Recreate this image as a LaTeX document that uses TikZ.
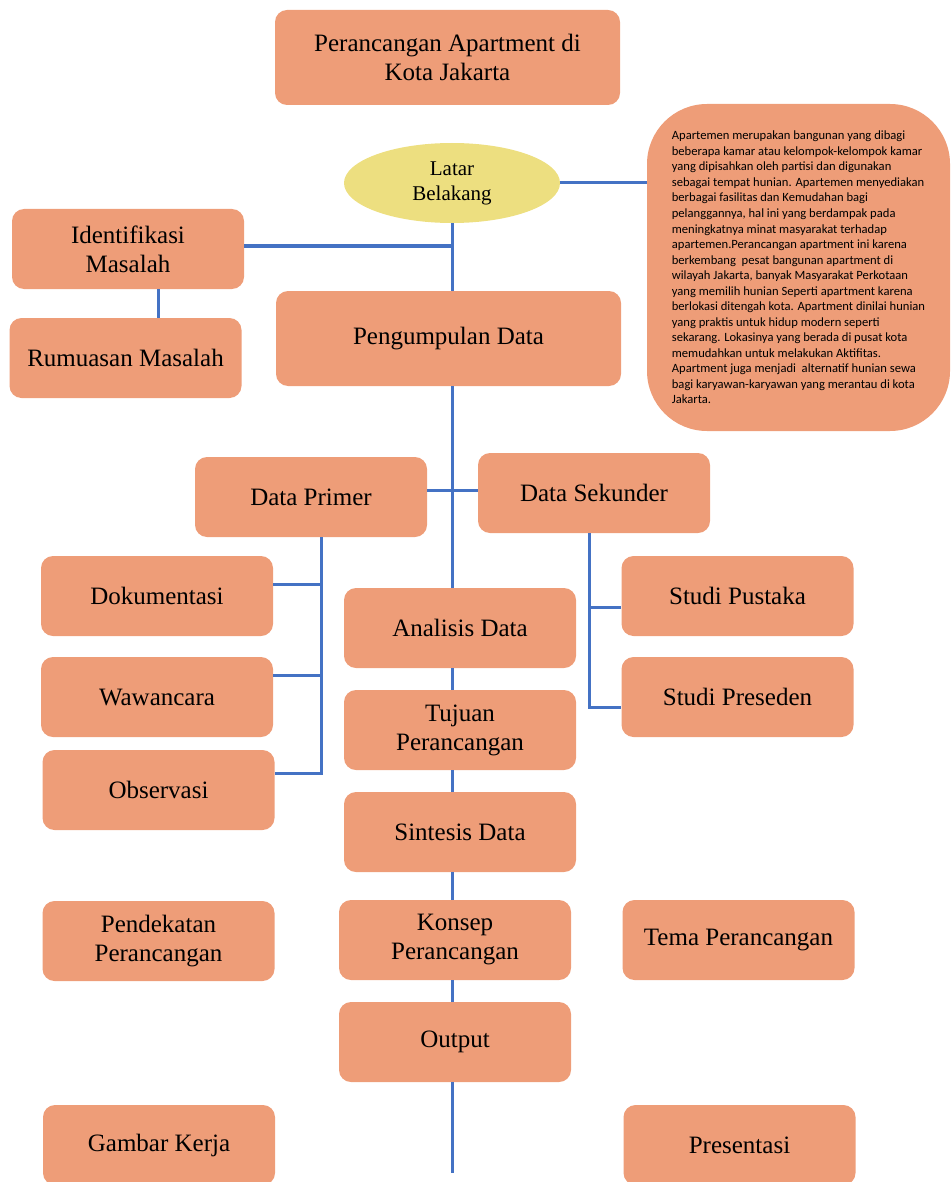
\documentclass[tikz,border=0pt]{standalone}
\usepackage{fontspec}
\setmainfont{Liberation Serif}
\newfontfamily\calib{Carlito}
\usetikzlibrary{shapes.geometric}
\definecolor{boxfill}{HTML}{EE9D78}
\definecolor{ellfill}{HTML}{EDDF80}
\definecolor{linecol}{HTML}{4472C4}
\begin{document}
\begin{tikzpicture}[x=0.5pt,y=-0.5pt,
  box/.style={draw=none, fill=boxfill, rounded corners=6pt, align=center,
    font=\fontsize{12.5}{14.5}\selectfont, inner sep=0pt},
  sbox/.style={box, minimum width=116pt, minimum height=40pt},
  bbox/.style={box, minimum width=172.5pt, minimum height=47.5pt},
  conn/.style={draw=linecol, line width=1.5pt}]
\useasboundingbox (0,0) rectangle (950,1182);

% nodes
\node[bbox] (title) at (447.5,57.5) {Perancangan Apartment di\\Kota Jakarta};
\node[ellipse, fill=ellfill, minimum width=108pt, minimum height=40pt, inner sep=0pt,
  align=center, font=\fontsize{10.5}{12.5}\selectfont] (latar) at (452,183) {\rule{0pt}{0pt}Latar\\Belakang};
\node[box, rounded corners=30pt, minimum width=151.5pt, minimum height=163.5pt,
  align=left, font=\calib\fontsize{6.3}{7.76}\selectfont] (desc) at (798.5,267.5)
{Apartemen merupakan bangunan yang dibagi\\
beberapa kamar atau kelompok-kelompok kamar\\
yang dipisahkan oleh partisi dan digunakan\\
sebagai tempat hunian. Apartemen menyediakan\\
berbagai fasilitas dan Kemudahan bagi\\
pelanggannya, hal ini yang berdampak pada\\
meningkatnya minat masyarakat terhadap\\
apartemen.Perancangan apartment ini karena\\
berkembang\ \ pesat bangunan apartment di\\
wilayah Jakarta, banyak Masyarakat Perkotaan\\
yang memilih hunian Seperti apartment karena\\
berlokasi ditengah kota. Apartment dinilai hunian\\
yang praktis untuk hidup modern seperti\\
sekarang. Lokasinya yang berada di pusat kota\\
memudahkan untuk melakukan Aktifitas.\\
Apartment juga menjadi\ \ alternatif hunian sewa\\
bagi karyawan-karyawan yang merantau di kota\\
Jakarta.};
\node[sbox] (identifikasi) at (128,249) {Identifikasi\\Masalah};
\node[sbox] (rumusan) at (125.5,358) {Rumuasan Masalah};
\node[bbox] (pengumpulan) at (448.5,338.5) {Pengumpulan Data};
\node[sbox] (dataprimer) at (311,497) {Data Primer};
\node[sbox] (datasekunder) at (594,493) {Data Sekunder};
\node[sbox] (dok) at (157,596) {Dokumentasi};
\node[sbox] (waw) at (157,697) {Wawancara};
\node[sbox] (obs) at (158.5,790) {Observasi};
\node[sbox] (pustaka) at (737.5,596) {Studi Pustaka};
\node[sbox] (preseden) at (737.5,697) {Studi Preseden};
\node[sbox] (analisis) at (460,628) {Analisis Data};
\node[sbox] (tujuan) at (460,730) {Tujuan\\Perancangan};
\node[sbox] (sintesis) at (460,832) {Sintesis Data};
\node[sbox] (konsep) at (455,940) {Konsep\\Perancangan};
\node[sbox] (output) at (455,1042) {Output};
\node[sbox] (pendekatan) at (158.5,941) {Pendekatan\\Perancangan};
\node[sbox] (tema) at (738.5,940) {Tema Perancangan};
\node[sbox] (gambar) at (159,1145) {Gambar Kerja};
\node[sbox] (presentasi) at (739.5,1145) {Presentasi};

% connectors
\draw[conn] (latar.south) -- (latar.south |- pengumpulan.north);
\draw[conn] ([yshift=1.5pt]identifikasi.east) -- ([yshift=1.5pt]identifikasi.east -| latar.south);
\draw[conn] ([xshift=15pt]identifikasi.south) -- ([xshift=15pt]identifikasi.south |- rumusan.north);
\draw[conn] (latar.east) -- (latar.east -| desc.west);
\draw[conn] (pengumpulan.south -| latar.south) -- (analisis.north -| latar.south);
\draw[conn] ([yshift=3.5pt]dataprimer.east) -- ([yshift=3.5pt]dataprimer.east -| datasekunder.west);

\coordinate (dpb) at ([xshift=5pt]dataprimer.south);
\draw[conn] (dpb) |- ([yshift=8.5pt]obs.east);
\draw[conn] ([yshift=6pt]dok.east) -- ([yshift=6pt]dok.east -| dpb);
\draw[conn] ([yshift=11pt]waw.east) -- ([yshift=11pt]waw.east -| dpb);

\coordinate (dsb) at ([xshift=-2.5pt]datasekunder.south);
\draw[conn] (dsb) |- ([yshift=-5pt]preseden.west);
\draw[conn] ([yshift=-5.5pt]pustaka.west) -- ([yshift=-5.5pt]pustaka.west -| dsb);

\draw[conn] (analisis.south -| latar.south) -- (tujuan.north -| latar.south);
\draw[conn] (tujuan.south -| latar.south) -- (sintesis.north -| latar.south);
\draw[conn] (sintesis.south -| latar.south) -- (konsep.north -| latar.south);
\draw[conn] (konsep.south -| latar.south) -- (output.north -| latar.south);
\coordinate (endpt) at (452,1173);
\draw[conn] (output.south -| endpt) -- (endpt);
\end{tikzpicture}
\end{document}
